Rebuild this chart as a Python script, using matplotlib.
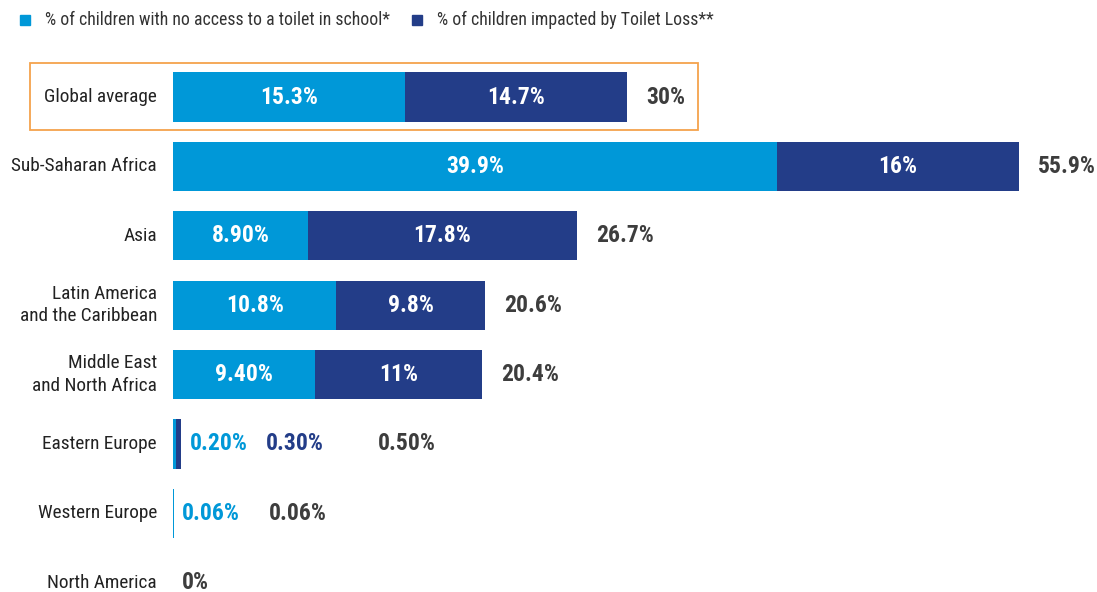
import matplotlib.pyplot as plt
from matplotlib.patches import Rectangle
from matplotlib.transforms import offset_copy

plt.rcParams['font.family'] = ['Roboto Condensed', 'Asap Condensed', 'DejaVu Sans']

# data
regions = ["Global average", "Sub-Saharan Africa", "Asia",
           "Latin America\nand the Caribbean", "Middle East\nand North Africa",
           "Eastern Europe", "Western Europe", "North America"]
no_toilet = [15.3, 39.9, 8.9, 10.8, 9.4, 0.2, 0.06, 0.0]
toilet_loss = [14.7, 16.0, 17.8, 9.8, 11.0, 0.3, 0.0, 0.0]
no_toilet_labels = ["15.3%", "39.9%", "8.90%", "10.8%", "9.40%", "0.20%", "0.06%", ""]
loss_labels = ["14.7%", "16%", "17.8%", "9.8%", "11%", "0.30%", "", ""]
total_labels = ["30%", "55.9%", "26.7%", "20.6%", "20.4%", "0.50%", "0.06%", "0%"]

light = "#0098d8"
navy = "#233d88"
grey = "#3d3d3d"

fig = plt.figure(figsize=(10.97, 5.92), dpi=100)
ax = fig.add_axes([173 / 1097, 0, 908 / 1097, 1])

ypos = list(range(len(regions)))
ax.barh(ypos, no_toilet, height=0.71, color=light, linewidth=0)
ax.barh(ypos, toilet_loss, left=no_toilet, height=0.71, color=navy, linewidth=0)

ax.set_xlim(0, 60)
ax.set_ylim(7.133, -1.398)
ax.axis("off")

def shifted(dx):
    return offset_copy(ax.transData, fig=fig, x=dx, y=0, units="dots")

val_size = 17
for i in ypos:
    a, b = no_toilet[i], toilet_loss[i]
    tot = a + b
    if a > 3:
        # labels inside the segments
        ax.text(a / 2, i, no_toilet_labels[i], ha="center", va="center",
                color="white", fontsize=val_size, fontweight="bold")
        ax.text(a + b / 2, i, loss_labels[i], ha="center", va="center",
                color="white", fontsize=val_size, fontweight="bold")
        ax.text(tot, i, total_labels[i], ha="left", va="center", color=grey,
                fontsize=val_size, fontweight="bold", transform=shifted(19))
    else:
        # tiny bars: labels laid out to the right
        x0 = 17 if loss_labels[i] else 9
        if no_toilet_labels[i]:
            ax.text(tot, i, no_toilet_labels[i], ha="left", va="center", color=light,
                    fontsize=val_size, fontweight="bold", transform=shifted(x0 - tot * 15))
            x0 += 76 if loss_labels[i] else 87
        if loss_labels[i]:
            ax.text(tot, i, loss_labels[i], ha="left", va="center", color=navy,
                    fontsize=val_size, fontweight="bold", transform=shifted(x0 - tot * 15))
            x0 += 112
        ax.text(tot, i, total_labels[i], ha="left", va="center", color=grey,
                fontsize=val_size, fontweight="bold", transform=shifted(x0 - tot * 15))

    ax.text(0, i, regions[i], ha="right", va="center", color="#222222",
            fontsize=13.9, linespacing=1.3, transform=shifted(-16))

# highlight box around the global average row
fig.patches.append(Rectangle((30 / 1097, 1 - 130 / 592), 668 / 1097, 67 / 592,
                             transform=fig.transFigure, fill=False,
                             edgecolor="#f5a24c", linewidth=1.3))

# legend
fig.patches.append(Rectangle((20 / 1097, 1 - 25 / 592), 10 / 1097, 10 / 592,
                             transform=fig.transFigure, color=light))
fig.text(45 / 1097, 1 - 20 / 592, "% of children with no access to a toilet in school*",
         ha="left", va="center", fontsize=12.8, color="#333333")
fig.patches.append(Rectangle((412 / 1097, 1 - 25 / 592), 10 / 1097, 10 / 592,
                             transform=fig.transFigure, color=navy))
fig.text(437 / 1097, 1 - 20 / 592, "% of children impacted by Toilet Loss**",
         ha="left", va="center", fontsize=12.8, color="#333333")

fig.savefig("out.png", dpi=100)
